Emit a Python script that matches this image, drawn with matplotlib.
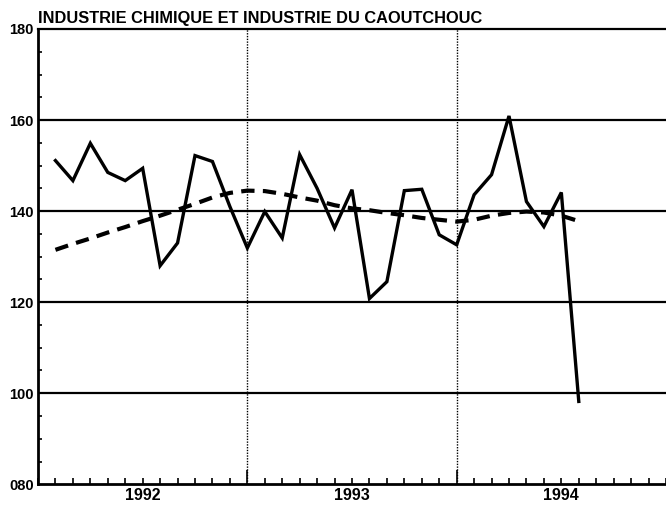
import matplotlib
import matplotlib.pyplot as plt
import matplotlib.transforms as mtransforms
import numpy as np

matplotlib.rcParams["font.family"] = ["Liberation Sans", "DejaVu Sans"]
matplotlib.rcParams["font.weight"] = "bold"
plt.switch_backend("agg")

TITLE = "INDUSTRIE CHIMIQUE ET INDUSTRIE DU CAOUTCHOUC"

# monthly series, Jan 1992 .. Jul 1994
production = [151.1, 146.7, 154.9, 148.5, 146.7, 149.4, 128.0, 133.0, 152.2, 150.9,
              141.0, 131.9, 139.9, 134.1, 152.4, 145.0, 136.3, 144.7, 120.8, 124.5,
              144.5, 144.8, 134.8, 132.6, 143.6, 148.0, 160.9, 142.1, 136.6, 144.1,
              98.2]
trend = [131.5, 132.8, 134.0, 135.3, 136.5, 137.8, 139.0, 140.3, 141.6, 143.0,
         144.0, 144.5, 144.4, 143.8, 143.0, 142.3, 141.3, 140.6, 140.2, 139.6,
         139.1, 138.5, 138.1, 137.7, 138.1, 139.0, 139.6, 139.9, 139.7, 139.0,
         137.8]

years = ["1992", "1993", "1994"]
y_ticks = [80, 100, 120, 140, 160, 180]
y_labels = ["080", "100", "120", "140", "160", "180"]


def main():
    W, H = 666, 505
    fig = plt.figure(figsize=(W / 100, H / 100), dpi=100)
    fig.patch.set_facecolor("white")
    ax = fig.add_axes([38 / W, 20.7 / H, (W - 38) / W, (484.3 - 29) / H])

    months = np.arange(1, len(production) + 1)
    n_months = 12 * len(years)

    # gridlines
    for v in y_ticks[1:-1]:
        ax.axhline(v, color="black", lw=1.6, zorder=1)
    for b in range(12, n_months, 12):
        ax.axvline(b, color="black", lw=1.0, ls=(0, (1, 1)), zorder=1)

    ax.plot(months, trend, color="black", lw=3.0, ls=(0, (3.2, 2.0)), zorder=3)
    ax.plot(months, production, color="black", lw=2.4, solid_joinstyle="miter", zorder=4)

    ax.set_xlim(0, n_months)
    ax.set_ylim(80, 180)

    ax.spines["right"].set_visible(False)
    ax.spines["top"].set_linewidth(1.6)
    ax.spines["left"].set_linewidth(2.0)
    ax.spines["bottom"].set_linewidth(2.0)

    ax.set_yticks(y_ticks)
    ax.set_yticklabels(y_labels, fontsize=10.5, fontweight="bold")
    ax.set_yticks(np.arange(80, 181, 5), minor=True)
    ax.tick_params(axis="y", which="major", direction="in", length=0, pad=3)
    ax.tick_params(axis="y", which="minor", direction="in", length=3, width=1.2)

    ax.set_xticks(range(12, n_months, 12))
    ax.set_xticklabels([])
    ax.set_xticks(range(0, n_months + 1), minor=True)
    ax.tick_params(axis="x", which="major", direction="in", length=10, width=1.2)
    ax.tick_params(axis="x", which="minor", direction="in", length=4, width=1.2)

    trans = mtransforms.blended_transform_factory(ax.transData, ax.transAxes)
    for k, yr in enumerate(years):
        ax.text(12 * k + 6, -0.008, yr, transform=trans, ha="center", va="top",
                fontsize=11.5, fontweight="bold")

    ax.text(0.0, 1.006, TITLE, transform=ax.transAxes, ha="left", va="bottom",
            fontsize=11.8, fontweight="bold")

    fig.savefig("out.png", dpi=100, facecolor="white")
    plt.close(fig)


if __name__ == "__main__":
    main()
